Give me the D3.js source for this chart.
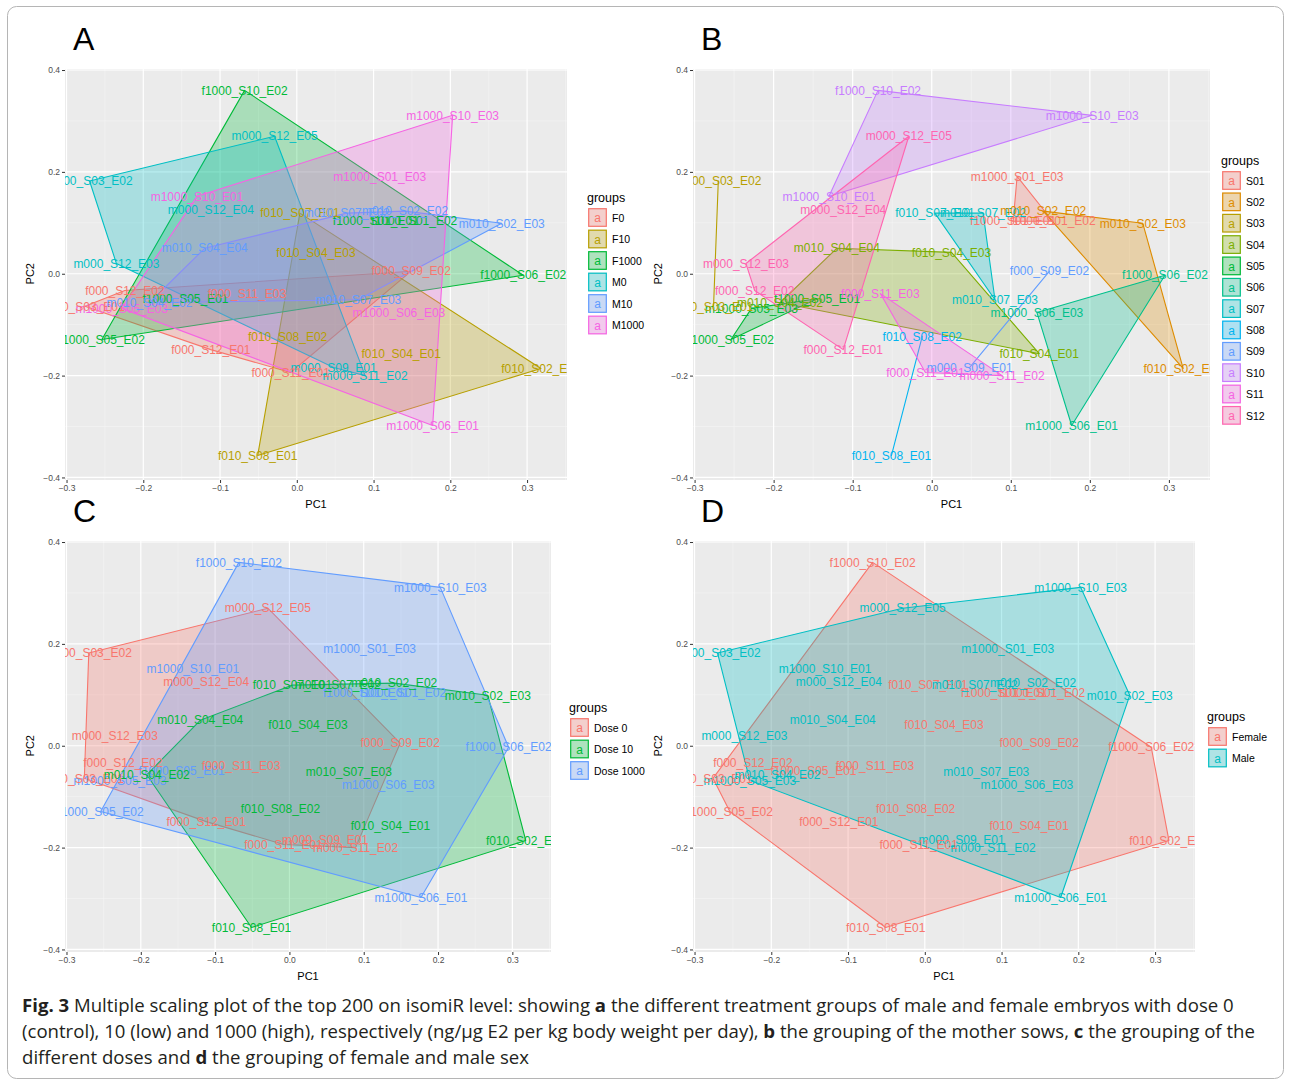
<!DOCTYPE html>
<html>
<head>
<meta charset="utf-8">
<script src="https://cdn.jsdelivr.net/npm/d3@7"></script>
<style>
  body { margin: 0; background: #fff; }
  svg text { font-family: "Liberation Sans", Arial, sans-serif; }
</style>
</head>
<body>
<div id="chart"></div>
<script>
const WIDTH = 1291;
const HEIGHT = 1084;

// sample names and their coordinates on the two principal axes
const sampleNames = [
    "f1000_S10_E02", "f1000_S06_E02", "f1000_S05_E02", "f1000_S05_E01", "f1000_S01_E01", "f1000_S01_E02",
    "m000_S03_E02", "m000_S12_E05", "m000_S12_E04", "m000_S12_E03", "m000_S09_E01", "m000_S11_E02",
    "m1000_S10_E03", "m1000_S10_E01", "m1000_S05_E03", "m1000_S06_E01", "m1000_S01_E03", "m1000_S06_E03",
    "f000_S03_E01", "f000_S12_E02", "f000_S09_E02", "f000_S11_E01", "f000_S12_E01", "f000_S11_E03",
    "f010_S07_E01", "f010_S04_E03", "f010_S08_E02", "f010_S04_E01", "f010_S02_E01", "f010_S08_E01",
    "m010_S04_E04", "m010_S07_E02", "m010_S02_E02", "m010_S02_E03", "m010_S07_E03", "m010_S04_E02"
];
const pc1 = [
    -0.068, 0.295, -0.254, -0.145, 0.103, 0.153,
    -0.270, -0.029, -0.112, -0.235, 0.048, 0.089,
    0.203, -0.130, -0.228, 0.177, 0.108, 0.133,
    -0.276, -0.224, 0.149, -0.008, -0.112, -0.065,
    0.004, 0.025, -0.012, 0.136, 0.318, -0.051,
    -0.120, 0.065, 0.141, 0.267, 0.080, -0.192
];
const pc2 = [
    0.360, -0.003, -0.129, -0.049, 0.103, 0.103,
    0.182, 0.270, 0.126, 0.020, -0.184, -0.200,
    0.311, 0.152, -0.068, -0.298, 0.191, -0.076,
    -0.064, -0.033, 0.005, -0.194, -0.149, -0.039,
    0.119, 0.042, -0.123, -0.157, -0.186, -0.357,
    0.050, 0.119, 0.123, 0.099, -0.051, -0.057
];

const treatGroups = ["F0", "F10", "F1000", "M0", "M10", "M1000"];
const sowGroups = ["S01", "S02", "S03", "S04", "S05", "S06", "S07", "S08", "S09", "S10", "S11", "S12"];
const doseGroups = ["Dose 0", "Dose 10", "Dose 1000"];
const sexGroups = ["Female", "Male"];

const xTicks = [-0.3, -0.2, -0.1, 0.0, 0.1, 0.2, 0.3];
const yTicks = [0.4, 0.2, 0.0, -0.2, -0.4];

const hue6 = ["#F8766D", "#B79F00", "#00BA38", "#00BFC4", "#619CFF", "#F564E3"];
const hue12 = ["#F8766D", "#DE8C00", "#B79F00", "#7CAE00", "#00BA38", "#00C08B",
               "#00BFC4", "#00B4F0", "#619CFF", "#C77CFF", "#F564E3", "#FF64B0"];
const hue3 = ["#F8766D", "#00BA38", "#619CFF"];
const hue2 = ["#F8766D", "#00BFC4"];

const samples = sampleNames.map((name, i) => {
    const parts = name.split("_");
    const dose = +parts[0].slice(1);
    const female = name[0] === "f";
    return {
        name: name,
        x: pc1[i],
        y: pc2[i],
        treat: (female ? "F" : "M") + dose,
        sow: parts[1],
        dose: "Dose " + dose,
        sex: female ? "Female" : "Male"
    };
});

const panels = [
    { letter: "A", key: "treat", groups: treatGroups, colors: hue6, left: 65, right: 567, top: 69, legendX: 587, legendY: 202, step: 21.5 },
    { letter: "B", key: "sow", groups: sowGroups, colors: hue12, left: 693, right: 1210, top: 69, legendX: 1221, legendY: 165, step: 21.35 },
    { letter: "C", key: "dose", groups: doseGroups, colors: hue3, left: 65, right: 551, top: 541, legendX: 569, legendY: 712, step: 21.5 },
    { letter: "D", key: "sex", groups: sexGroups, colors: hue2, left: 693, right: 1195, top: 541, legendX: 1207, legendY: 721, step: 21.5 }
];

const SVG = d3.select("#chart")
    .append("svg")
    .attr("width", WIDTH)
    .attr("height", HEIGHT);

SVG.append("rect")
    .attr("x", 7.5).attr("y", 6.5)
    .attr("width", 1276).attr("height", 1072)
    .attr("rx", 9)
    .attr("fill", "#fff")
    .attr("stroke", "#b5b5b5");

panels.forEach((p, pi) => {
    const plotH = 411;
    const x = d3.scaleLinear().domain([-0.302, 0.352]).range([p.left, p.right]);
    const y = d3.scaleLinear().domain([-0.405, 0.402]).range([p.top + plotH, p.top]);
    const color = d3.scaleOrdinal().domain(p.groups).range(p.colors);

    const g = SVG.append("g");

    // panel letter
    g.append("text")
        .attr("x", p.left + 8).attr("y", p.top - 19)
        .attr("font-size", 32)
        .attr("fill", "#000")
        .text(p.letter);

    // background + grid
    g.append("rect")
        .attr("x", p.left).attr("y", p.top)
        .attr("width", p.right - p.left).attr("height", plotH)
        .attr("fill", "#EBEBEB");

    const minorX = d3.range(-0.25, 0.36, 0.1);
    const minorY = [0.3, 0.1, -0.1, -0.3];
    g.selectAll(".minx").data(minorX).enter().append("line")
        .attr("x1", d => x(d)).attr("x2", d => x(d))
        .attr("y1", p.top).attr("y2", p.top + plotH)
        .attr("stroke", "#F5F5F5").attr("stroke-width", 0.6);
    g.selectAll(".miny").data(minorY).enter().append("line")
        .attr("x1", p.left).attr("x2", p.right)
        .attr("y1", d => y(d)).attr("y2", d => y(d))
        .attr("stroke", "#F5F5F5").attr("stroke-width", 0.6);
    g.selectAll(".majx").data(xTicks).enter().append("line")
        .attr("x1", d => x(d)).attr("x2", d => x(d))
        .attr("y1", p.top).attr("y2", p.top + plotH)
        .attr("stroke", "#fff").attr("stroke-width", 1.2);
    g.selectAll(".majy").data(yTicks).enter().append("line")
        .attr("x1", p.left).attr("x2", p.right)
        .attr("y1", d => y(d)).attr("y2", d => y(d))
        .attr("stroke", "#fff").attr("stroke-width", 1.2);

    // axes
    const xAxis = g.append("g")
        .attr("transform", `translate(0, ${p.top + plotH})`)
        .call(d3.axisBottom(x).tickValues(xTicks).tickFormat(d3.format(".1f")).tickSize(3).tickPadding(2));
    const yAxis = g.append("g")
        .attr("transform", `translate(${p.left}, 0)`)
        .call(d3.axisLeft(y).tickValues(yTicks).tickFormat(d3.format(".1f")).tickSize(3).tickPadding(2));
    [xAxis, yAxis].forEach(a => {
        a.select(".domain").remove();
        a.selectAll("line").attr("stroke", "#333");
        a.selectAll("text").attr("fill", "#4D4D4D").attr("font-size", 8.5)
            .attr("font-family", "Liberation Sans, Arial, sans-serif");
    });

    g.append("text")
        .attr("x", (p.left + p.right) / 2).attr("y", p.top + plotH + 28)
        .attr("text-anchor", "middle")
        .attr("font-size", 11)
        .text("PC1");
    g.append("text")
        .attr("transform", `translate(${p.left - 31}, ${y(0)}) rotate(-90)`)
        .attr("text-anchor", "middle")
        .attr("font-size", 11)
        .text("PC2");

    // clipped plot content
    const clipId = "clip" + pi;
    g.append("clipPath").attr("id", clipId)
        .append("rect")
        .attr("x", p.left).attr("y", p.top)
        .attr("width", p.right - p.left).attr("height", plotH);
    const content = g.append("g").attr("clip-path", `url(#${clipId})`);

    p.groups.forEach(grp => {
        const pts = samples.filter(s => s[p.key] === grp).map(s => [x(s.x), y(s.y)]);
        const hull = pts.length >= 3 ? d3.polygonHull(pts) : pts;
        content.append("path")
            .attr("d", "M" + hull.map(q => q.join(",")).join("L") + "Z")
            .attr("fill", color(grp))
            .attr("fill-opacity", 0.28)
            .attr("stroke", color(grp))
            .attr("stroke-width", 1.1)
            .attr("stroke-linejoin", "round");
    });

    content.selectAll(".lbl")
        .data(samples)
        .enter()
        .append("text")
        .attr("x", s => x(s.x))
        .attr("y", s => y(s.y))
        .attr("dy", "0.35em")
        .attr("text-anchor", "middle")
        .attr("font-size", 12)
        .attr("fill", s => color(s[p.key]))
        .text(s => s.name);

    // legend
    const lg = g.append("g");
    lg.append("text")
        .attr("x", p.legendX).attr("y", p.legendY)
        .attr("font-size", 12.5)
        .text("groups");
    const keys = lg.selectAll(".key")
        .data(p.groups)
        .enter()
        .append("g")
        .attr("transform", (d, i) => `translate(${p.legendX + 1}, ${p.legendY + 6 + i * p.step})`);
    keys.append("rect")
        .attr("width", 19).attr("height", 19)
        .attr("fill", "#F2F2F2");
    keys.append("rect")
        .attr("x", 0.7).attr("y", 0.7)
        .attr("width", 17.6).attr("height", 17.6)
        .attr("fill", d => color(d))
        .attr("fill-opacity", 0.28)
        .attr("stroke", d => color(d))
        .attr("stroke-width", 1.2);
    keys.append("text")
        .attr("x", 9.5).attr("y", 10).attr("dy", "0.35em")
        .attr("text-anchor", "middle")
        .attr("font-size", 12)
        .attr("fill", d => color(d))
        .text("a");
    keys.append("text")
        .attr("x", 24).attr("y", 10).attr("dy", "0.35em")
        .attr("font-size", 10.5)
        .text(d => d);
});

// caption
const captionLines = [
    [["Fig. 3", true], [" Multiple scaling plot of the top 200 on isomiR level: showing ", false], ["a", true],
     [" the different treatment groups of male and female embryos with dose 0", false]],
    [["(control), 10 (low) and 1000 (high), respectively (ng/\u03bcg E2 per kg body weight per day), ", false], ["b", true],
     [" the grouping of the mother sows, ", false], ["c", true], [" the grouping of the", false]],
    [["different doses and ", false], ["d", true], [" the grouping of female and male sex", false]]
];
captionLines.forEach((line, i) => {
    const t = SVG.append("text")
        .attr("x", 22).attr("y", 1012 + i * 26)
        .attr("font-size", 18.6)
        .attr("fill", "#231F20")
        .style("font-family", "'Open Sans', 'Noto Sans', sans-serif");
    line.forEach(([str, bold]) => {
        t.append("tspan")
            .attr("font-weight", bold ? 700 : 400)
            .text(str);
    });
});
</script>
</body>
</html>
